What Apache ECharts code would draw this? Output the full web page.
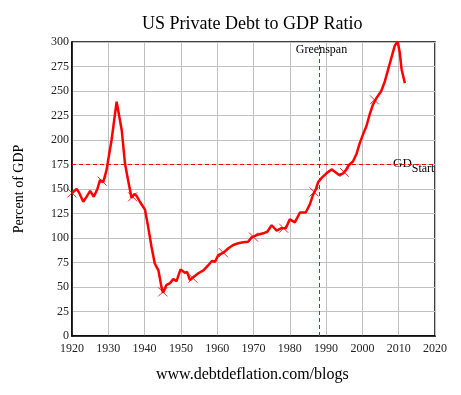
<!DOCTYPE html>
<html><head><meta charset="utf-8">
<script src="https://cdn.jsdelivr.net/npm/echarts@6/dist/echarts.min.js"></script>
<style>html,body{margin:0;padding:0;background:#fff}#c{width:461px;height:395px}</style>
</head><body><div id="c"></div>
<script>
const years = [1920,1921.3,1922,1923.1,1924,1925,1926,1927,1927.7,1928.6,1929.5,1930.9,1932.3,1932.7,1933.7,1934.6,1935.4,1936.4,1937.2,1937.8,1938.7,1940.1,1941,1941.9,1942.8,1943.8,1944.7,1945.1,1946,1947,1947.9,1948.8,1949.9,1951.1,1951.7,1952.5,1953.4,1954.8,1956.2,1957.5,1958.5,1959.4,1960.3,1961.7,1963.1,1964.4,1965.8,1967.2,1968.5,1969.5,1970.9,1972.7,1973.8,1975,1976.4,1977.7,1978.9,1980,1981.4,1982.8,1984.4,1985.5,1986.4,1987.2,1987.8,1988.7,1990.1,1991.5,1992.4,1993.6,1994.7,1995.4,1996.3,1997.4,1998.4,1999.3,2000.2,2001.1,2002,2002.9,2003.9,2005.2,2006.2,2007.1,2008,2008.9,2009.7,2010.3,2010.8,2011.7];
const debtToGdp = [146,150,146,137,142,148,142,150,159,157,169,200,239,240,210,176,160,141,145,143,137,129,111,91,74,67,49,44,52,54,58,56,68,64.5,65.5,57,60,64,67,72,76.5,75.8,82.6,85,89.5,92.9,94.6,95.6,96.2,100.7,103,104.8,106.4,113,107.5,110,110,119,116,126,126,134,144,150,157,161,166,170,167.7,164.3,166,169,174.5,178,186,197,206,214,226,236,243,250,260,272,284,296,301,289,272,258];
const markerYears = [1920,1928.3,1936.7,1945,1953.3,1961.7,1970,1978.3,1986.7,1995,2003.3];
const markerValues = [146,158,142,45,59,85,101,110,147,167,241];
const greenspanYear = 1988;
const gdStartLevel = 175;

const chart = echarts.init(document.getElementById('c'));
const serif = '"Liberation Serif","Times New Roman",serif';
chart.setOption({
  animation: false,
  backgroundColor: '#fff',
  title: {text: 'US Private Debt to GDP Ratio', left: 137, top: 10,
    textStyle: {fontFamily: serif, fontSize: 18, fontWeight: 'normal', color: '#000'}},
  grid: {left: 72, right: 26, top: 42, bottom: 59, show: true, borderColor: '#000', borderWidth: 1.5},
  xAxis: {type: 'value', min: 1920, max: 2020, interval: 10,
    axisLine: {show: true, lineStyle: {color: '#000', width: 1.5}}, axisTick: {show: false},
    axisLabel: {fontFamily: serif, fontSize: 12, color: '#222', margin: 7, formatter: v => String(v)},
    splitLine: {show: true, lineStyle: {color: '#c0c0c0', width: 1}}},
  yAxis: {type: 'value', min: 0, max: 300, interval: 25,
    name: 'Percent of GDP', nameLocation: 'middle', nameGap: 46, nameRotate: 90,
    nameTextStyle: {fontFamily: serif, fontSize: 14, color: '#000'},
    axisLine: {show: true, lineStyle: {color: '#000', width: 1.5}}, axisTick: {show: false},
    axisLabel: {fontFamily: serif, fontSize: 12, color: '#222', margin: 3},
    splitLine: {show: true, lineStyle: {color: '#c0c0c0', width: 1}}},
  series: [
    {type: 'line', data: years.map((y, i) => [y, debtToGdp[i]]), showSymbol: false,
      lineStyle: {color: '#ff0000', width: 2.5}, itemStyle: {color: '#ff0000'},
      markLine: {silent: true, symbol: 'none', animation: false,
        lineStyle: {color: '#ff0000', type: [4, 3], width: 1},
        label: {show: false},
        data: [{xAxis: greenspanYear}, {yAxis: gdStartLevel}]}},
    {type: 'scatter', data: markerYears.map((y, i) => [y, markerValues[i]]),
      symbol: 'path://M0,0L10,10M10,0L0,10', symbolSize: 9,
      itemStyle: {color: 'none', borderColor: '#d00000', borderWidth: 1}}
  ]
});
const gp = chart.convertToPixel({gridIndex: 0}, [greenspanYear, 300]);
const hp = chart.convertToPixel({gridIndex: 0}, [2020, gdStartLevel]);
chart.setOption({graphic: [
  {type: 'text', left: gp[0] - 23, top: gp[1] + 2,
    style: {text: 'Greenspan', font: '12px ' + serif, fill: '#000'}},
  {type: 'text', left: hp[0] - 42, top: hp[1] - 7,
    style: {text: '{a|GD}{b|Start}', fill: '#000',
      rich: {a: {fontFamily: serif, fontSize: 13, fill: '#000'}, b: {fontFamily: serif, fontSize: 12, padding: [10, 0, 0, 0]}}}},
  {type: 'text', left: 156, top: 367,
    style: {text: 'www.debtdeflation.com/blogs', font: '16px ' + serif, fill: '#000'}}
]});
</script></body></html>
